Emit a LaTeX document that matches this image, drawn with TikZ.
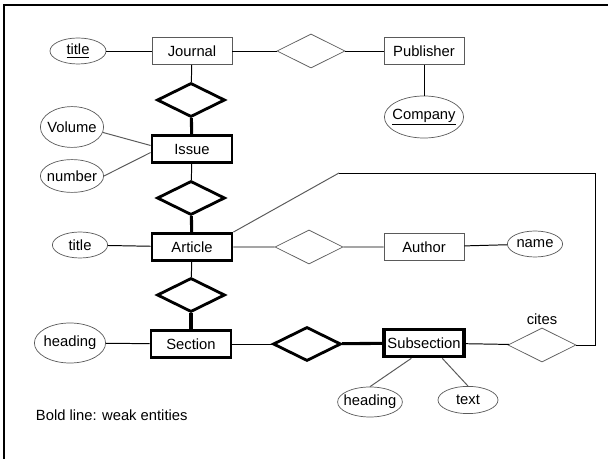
\documentclass[tikz,border=0pt]{standalone}
\usepackage{fontspec}
\setmainfont{Liberation Sans}
\usepackage{tikz}
\usetikzlibrary{shapes.geometric, positioning}
\definecolor{outline}{RGB}{90, 90, 90}

\begin{document}
\begin{tikzpicture}[x=0.025cm, y=-0.025cm,
    every node/.style={font=\fontsize{10.5}{12.5}\selectfont},
    entity/.style={draw=outline, line width=0.6pt, minimum width=2cm, minimum height=0.675cm, inner sep=0},
    weak/.style={entity, draw=black, line width=2pt},
    attr/.style={ellipse, draw=outline, line width=0.5pt, minimum width=1.4cm, minimum height=0.65cm, inner ysep=0, inner xsep=-3pt},
    rel/.style={diamond, draw=outline, line width=0.5pt, minimum width=1.7cm, minimum height=0.85cm, inner sep=0},
    weakrel/.style={rel, draw=black, line width=2pt},
    thin/.style={line width=0.7pt},
    bold/.style={line width=2.2pt}]

  \pgfmathsetmacro{\xm}{191};
  \pgfmathsetmacro{\xr}{424};

  \useasboundingbox (0, 0) rectangle (608, 459);
  \draw[line width=1.8pt] (4, 459) |- (608, 5);

  % entities
  \node[entity] (journal) at (192, 51) {Journal};
  \node[entity] (publisher) at (\xr, 51) {Publisher};
  \node[weak] (issue) at (192, 149) {Issue};
  \node[weak] (article) at (192, 247) {Article};
  \node[entity] (author) at (\xr, 247) {Author};
  \node[weak] (section) at (\xm, 344) {Section};
  \node[weak, line width=2.6pt] (subsection) at (\xr, 343) {Subsection};

  % relationships
  \node[rel] (publishes) at (311, 51) {};
  \node[weakrel] (inissue) at (\xm, 100) {};
  \node[weakrel] (inarticle) at (\xm, 198) {};
  \node[rel] (writes) at (309, 247) {};
  \node[weakrel] (insection) at (\xm, 295) {};
  \node[weakrel] (insubsection) at (307, 344) {};
  \node[rel] (cites) at (542, 345) {};
  \node (citeslbl) at (542, 319) {cites};

  % attributes
  \node[attr, minimum width=1.4cm] (jtitle) at (78, 51) {\underline{title}};
  \node[attr, minimum width=1.98cm, minimum height=1.05cm] (company) at (\xr, 117) {\underline{Company}};
  \node[attr, minimum width=1.58cm, minimum height=1.02cm] (volume) at (72, 127) {Volume};
  \node[attr, minimum width=1.58cm, minimum height=0.82cm] (number) at (72, 176) {number};
  \node[attr, minimum width=1.38cm] (atitle) at (80, 245) {title};
  \node[attr, minimum width=1.38cm] (name) at (535, 244) {name};
  \node[attr, minimum width=1.78cm, minimum height=1cm] (heading) at (70, 343) {heading};
  \node[attr, minimum width=1.62cm, minimum height=0.75cm, inner xsep=-4.2pt] (sheading) at (370, 402) {heading};
  \node[attr, minimum width=1.5cm, minimum height=0.68cm] (text) at (468, 400) {text};

  \node[anchor=west] (legend) at (31, 415) {Bold line: weak entities};

  % connectors
  \draw[thin] (jtitle) -- (journal);
  \draw[thin] (journal) -- (publishes) -- (publisher) -- (company);
  \draw[thin] (journal) -- (inissue);
  \draw[bold] (inissue) -- (issue);
  \draw[thin, outline] (volume.-10) -- ([yshift=2.5pt]issue.west);
  \draw[thin, outline] (number.east) -- ([yshift=-2.5pt]issue.west);
  \draw[thin] (issue) -- (inarticle);
  \draw[bold] (inarticle) -- (article);
  \draw[thin] (atitle) -- (article);
  \draw[thin] (article) -- (writes) -- (author) -- (name);
  \draw[thin] (article) -- (insection);
  \draw[bold] (insection) -- (section);
  \draw[thin] (heading) -- (section);
  \draw[thin] (section) -- (insubsection);
  \draw[bold] (insubsection) -- (subsection);
  \draw[thin] (subsection) -- (cites);
  \draw[thin, outline] ([xshift=-9pt]subsection.south) -- (sheading.north);
  \draw[thin, outline] ([xshift=13pt]subsection.south) -- (text.north);

  % cites loop back to Article
  \coordinate (bend) at (339, 173);
  \coordinate (corner) at (595, 173);
  \draw[thin, outline] (article.north east) -- (bend);
  \draw[thin] (bend) -- (corner) |- (cites.east);

\end{tikzpicture}
\end{document}
